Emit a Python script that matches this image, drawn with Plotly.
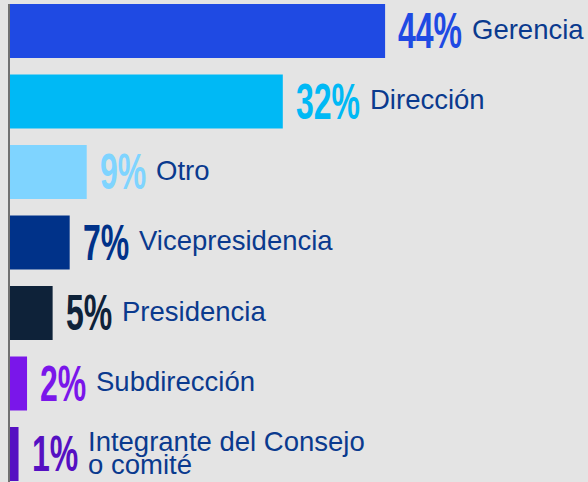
import plotly.graph_objects as go

categories = ["Gerencia", "Dirección", "Otro", "Vicepresidencia", "Presidencia",
              "Subdirección", "Integrante del Consejo<br>o comité"]
values = [44, 32, 9, 7, 5, 2, 1]
colors = ["#1f4ae3", "#00b9f5", "#7fd4ff", "#003289", "#0e2239", "#7a16ea", "#5510c2"]
label_color = "#0a3a8e"

PCT_FONT = "Liberation Sans, Arial, sans-serif"
PCT_SIZE = 50
PCT_SCALE = 0.64
LBL_FONT = "Liberation Sans, Arial, sans-serif"
LBL_SIZE = 27.5

ypos = list(range(len(values)))

fig = go.Figure(go.Bar(
    x=values, y=ypos, orientation="h", marker=dict(color=colors, line=dict(width=0)),
    width=0.766, hoverinfo="skip",
))

annotations = []
for i, (v, cat, col) in enumerate(zip(values, categories, colors)):
    pct = f"{v}%"
    annotations.append(dict(
        x=v, y=i, xref="x", yref="y", text=f"<b>{pct}</b>", showarrow=False,
        xanchor="left", yanchor="middle", xshift=11,
        font=dict(family=PCT_FONT, size=PCT_SIZE, color=col),
    ))
    ndig = len(str(v))
    pw = PCT_SCALE * PCT_SIZE * (0.556 * ndig + 0.889)
    lx = 11 + pw + 10
    lines = cat.split("<br>")
    n = len(lines)
    for j, line in enumerate(lines):
        yshift = 2 if n == 1 else (13 - 23 * j)
        annotations.append(dict(
            x=v, y=i, xref="x", yref="y", text=line, showarrow=False,
            xanchor="left", yanchor="middle", xshift=lx, yshift=yshift,
            font=dict(family=LBL_FONT, size=LBL_SIZE, color=label_color),
        ))

fig.update_layout(
    width=588, height=482,
    margin=dict(l=10, r=0, t=4, b=0),
    paper_bgcolor="#e4e4e4", plot_bgcolor="#e4e4e4",
    showlegend=False,
    annotations=annotations,
    xaxis=dict(range=[0, 67.8], visible=False, showgrid=False, zeroline=False),
    yaxis=dict(range=[6.397, -0.383], showgrid=False, zeroline=False,
               showticklabels=False, ticks="", showline=True,
               linecolor="#707070", linewidth=2),
)

post = """
document.body.style.margin = '0';
document.body.style.background = '#e4e4e4';
document.querySelectorAll('.annotation-text').forEach(function(t){
  if (t.textContent.trim().endsWith('%')) {
    t.style.transformBox = 'fill-box';
    t.style.transformOrigin = '0% 50%';
    t.style.transform = 'scaleX(%SCALE%)';
  }
});
""".replace("%SCALE%", str(PCT_SCALE))

fig.write_html("out.html", post_script=post, config={"displayModeBar": False})
